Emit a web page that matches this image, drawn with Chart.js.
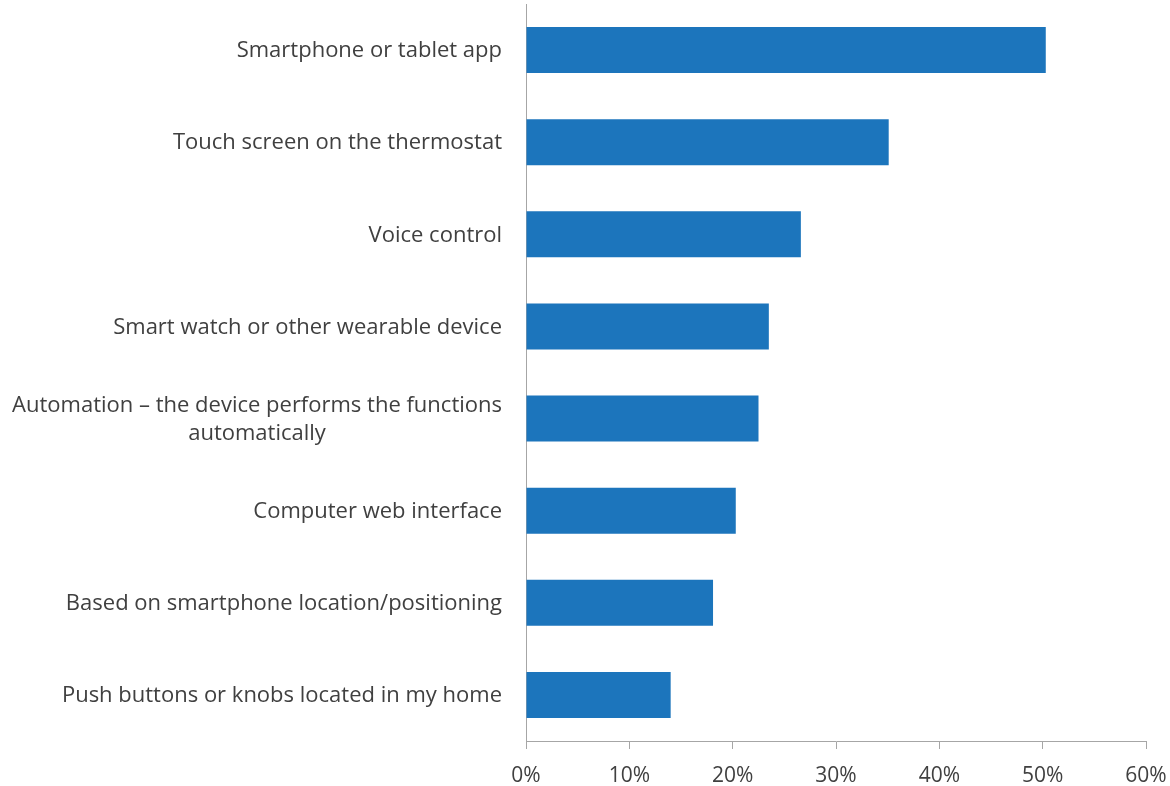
<!DOCTYPE html>
<html><head><meta charset="utf-8">
<script src="https://cdn.jsdelivr.net/npm/chart.js@4.4.0/dist/chart.umd.min.js"></script>
<style>html,body{margin:0;padding:0;background:#fff}#wrap{width:1170px;height:786px}</style>
</head><body><div id="wrap"><canvas id="c" width="1170" height="786"></canvas></div>
<script>
const categories = [
  ["Smartphone or tablet app"],
  ["Touch screen on the thermostat"],
  ["Voice control"],
  ["Smart watch or other wearable device"],
  ["Automation – the device performs the functions", "automatically"],
  ["Computer web interface"],
  ["Based on smartphone location/positioning"],
  ["Push buttons or knobs located in my home"]
];
const values = [50.3, 35.1, 26.6, 23.5, 22.5, 20.3, 18.1, 14.0];
const tickValues = [0, 10, 20, 30, 40, 50, 60];

const FONT = '"Open Sans", sans-serif';
const TEXT = '#404040';
const AXIS = '#a6a6a6';

const yLabelPlugin = {
  id: 'yLabels',
  afterDraw(chart) {
    const ctx = chart.ctx;
    const y = chart.scales.y;
    ctx.save();
    ctx.font = '22px ' + FONT;
    ctx.fillStyle = TEXT;
    ctx.textBaseline = 'middle';
    const right = y.right - 24;
    const lh = 28;
    categories.forEach((lines, i) => {
      const cy = y.getPixelForTick(i) + 1;
      const widths = lines.map(l => ctx.measureText(l).width);
      const maxW = Math.max(...widths);
      const startY = cy - (lines.length - 1) * lh / 2;
      lines.forEach((l, j) => {
        ctx.textAlign = 'center';
        ctx.fillText(l, right - maxW / 2, startY + j * lh);
      });
    });
    ctx.restore();
  }
};

new Chart(document.getElementById('c'), {
  type: 'bar',
  data: {
    labels: categories.map(c => c.join(' ')),
    datasets: [{
      data: values,
      backgroundColor: '#1C75BC',
      borderWidth: 0,
      barPercentage: 0.5,
      categoryPercentage: 1.0
    }]
  },
  options: {
    indexAxis: 'y',
    responsive: false,
    animation: false,
    layout: { padding: { top: 4, right: 24, left: 0, bottom: 0 } },
    plugins: { legend: { display: false }, tooltip: { enabled: false } },
    scales: {
      x: {
        min: 0, max: 60,
        afterFit(s) { s.height = 45; s.paddingRight = 0; s.paddingLeft = 0; },
        afterBuildTicks(s) { s.ticks = tickValues.map(v => ({ value: v })); },
        ticks: {
          font: { family: FONT, size: 21 },
          color: TEXT,
          padding: 14,
          callback: v => v + '%'
        },
        grid: { drawOnChartArea: false, drawTicks: true, tickLength: 8, color: AXIS, lineWidth: 1 },
        border: { display: true, color: AXIS, width: 1 }
      },
      y: {
        afterFit(s) { s.width = 526; s.paddingTop = 0; s.paddingBottom = 0; },
        ticks: { display: false },
        grid: { display: false },
        border: { display: true, color: AXIS, width: 1 }
      }
    }
  },
  plugins: [yLabelPlugin]
});
</script></body></html>
